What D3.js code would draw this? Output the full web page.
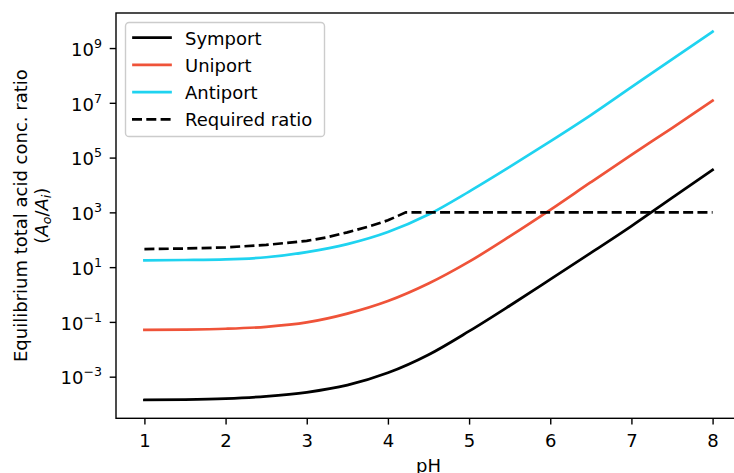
<!DOCTYPE html>
<html>
<head>
<meta charset="utf-8">
<script src="https://cdn.jsdelivr.net/npm/d3@7"></script>
<style>
  body { margin: 0; background: #fff; }
  svg { font-family: "DejaVu Sans", sans-serif; }
</style>
</head>
<body>
<svg width="734" height="473"></svg>
<script>
"use strict";

// values (ratio A_o / A_i)
const pH = [1, 1.5, 2, 2.5, 3, 3.5, 4, 4.5, 5, 5.5, 6, 6.5, 7, 7.5, 8];
const symport = [1.41e-4, 1.45e-4, 1.58e-4, 1.91e-4, 2.69e-4, 4.9e-4, 1.38e-3, 6.31e-3, 0.0457, 0.389, 3.55, 33.1, 316, 3390, 35500];
const uniport = [0.0513, 0.0525, 0.0562, 0.0661, 0.0955, 0.2, 0.575, 2.51, 15.8, 132, 1230, 12600, 126000, 1.2e6, 1.2e7];
const antiport = [17.8, 18.2, 19.1, 22.9, 35.5, 69.2, 191, 832, 5750, 45700, 389000, 3.55e6, 3.72e7, 3.89e8, 3.98e9];

const requiredPH = [1, 1.5, 2, 2.5, 3, 3.25, 3.5, 3.75, 4, 4.22, 5, 6, 7, 8];
const required = [45.7, 47.9, 52.5, 64.6, 91.2, 123, 186, 295, 513, 1000, 1000, 1000, 1000, 1000];

const xTicks = [1, 2, 3, 4, 5, 6, 7, 8];
const yTicks = [1e-3, 1e-1, 1e1, 1e3, 1e5, 1e7, 1e9];

const series = [
    {name: "Symport", x: pH, y: symport, color: "#000000", dash: null},
    {name: "Uniport", x: pH, y: uniport, color: "#ef5339", dash: null},
    {name: "Antiport", x: pH, y: antiport, color: "#1fd3f0", dash: null},
    {name: "Required ratio", x: requiredPH, y: required, color: "#000000", dash: "10,4.3"}
];

window.addEventListener("load", draw);

function draw() {
    const svg = d3.select("svg");
    const Box = {LEFT: 116, RIGHT: 741, TOP: 13, BOTTOM: 418.3};
    const FONT = 18;

    const x = d3.scaleLinear()
        .domain([0.65, 8.35])
        .range([Box.LEFT, Box.RIGHT]);
    const y = d3.scaleLog()
        .domain([Math.pow(10, -4.52), Math.pow(10, 10.28)])
        .range([Box.BOTTOM, Box.TOP]);

    svg.append("rect")
        .attr("width", 734).attr("height", 473)
        .attr("fill", "#fff");

    // lines
    series.forEach(s => {
        const line = d3.line()
            .x(d => x(d[0]))
            .y(d => y(d[1]))
            .curve(s.dash ? d3.curveLinear : d3.curveMonotoneX);
        svg.append("path")
            .datum(d3.zip(s.x, s.y))
            .attr("fill", "none")
            .attr("stroke", s.color)
            .attr("stroke-width", 2.7)
            .attr("stroke-linecap", s.dash ? "butt" : "square")
            .attr("stroke-dasharray", s.dash)
            .attr("d", line);
    });

    // x axis
    const xAxis = svg.append("g")
        .attr("transform", `translate(0, ${Box.BOTTOM})`)
        .call(d3.axisBottom(x).tickValues(xTicks).tickSize(6.3).tickSizeOuter(0).tickPadding(9.5).tickFormat(d3.format("d")));
    xAxis.select(".domain").remove();
    xAxis.selectAll("line").attr("stroke", "#000").attr("stroke-width", 1.4);
    xAxis.selectAll("text").attr("font-size", FONT).attr("font-family", "DejaVu Sans").attr("fill", "#000");

    // y axis with 10^n labels
    const yAxis = svg.append("g")
        .attr("transform", `translate(${Box.LEFT}, 0)`)
        .call(d3.axisLeft(y).tickValues(yTicks).tickSize(6.3).tickSizeOuter(0).tickFormat(""));
    yAxis.select(".domain").remove();
    yAxis.selectAll("line").attr("stroke", "#000").attr("stroke-width", 1.4);
    yAxis.selectAll(".tick text").remove();

    yTicks.forEach(v => {
        const e = Math.round(Math.log10(v));
        const t = svg.append("text")
            .attr("x", 102)
            .attr("y", y(v) + 7.7)
            .attr("text-anchor", "end")
            .attr("font-size", FONT)
            .attr("fill", "#000");
        t.append("tspan").text("10");
        t.append("tspan")
            .attr("dy", -8)
            .attr("font-size", 12.6)
            .text(e < 0 ? "\u2212" + Math.abs(e) : String(e));
    });

    // spines
    svg.append("rect")
        .attr("x", Box.LEFT).attr("y", Box.TOP)
        .attr("width", Box.RIGHT - Box.LEFT).attr("height", Box.BOTTOM - Box.TOP)
        .attr("fill", "none")
        .attr("stroke", "#000")
        .attr("stroke-width", 1.4);

    // axis labels
    svg.append("text")
        .attr("x", (Box.LEFT + Box.RIGHT) / 2)
        .attr("y", 472)
        .attr("text-anchor", "middle")
        .attr("font-size", FONT)
        .text("pH");

    const cy = (Box.TOP + Box.BOTTOM) / 2;
    svg.append("text")
        .attr("transform", `translate(26.5, ${cy}) rotate(-90)`)
        .attr("text-anchor", "middle")
        .attr("font-size", FONT)
        .text("Equilibrium total acid conc. ratio");
    const lab2 = svg.append("text")
        .attr("transform", `translate(47.5, ${cy}) rotate(-90)`)
        .attr("text-anchor", "middle")
        .attr("font-size", FONT);
    lab2.append("tspan").text("(");
    lab2.append("tspan").attr("font-style", "italic").text("A");
    lab2.append("tspan").attr("font-style", "italic").attr("font-size", 12.6).attr("dy", 3.5).text("o");
    lab2.append("tspan").attr("dy", -3.5).text("/");
    lab2.append("tspan").attr("font-style", "italic").text("A");
    lab2.append("tspan").attr("font-style", "italic").attr("font-size", 12.6).attr("dy", 3.5).text("i");
    lab2.append("tspan").attr("dy", -3.5).text(")");

    // legend
    const legend = svg.append("g");
    legend.append("rect")
        .attr("x", 125.5).attr("y", 22.5)
        .attr("width", 199).attr("height", 114)
        .attr("rx", 3.6)
        .attr("fill", "#fff").attr("fill-opacity", 0.8)
        .attr("stroke", "#cccccc").attr("stroke-width", 1.4);
    series.forEach((s, i) => {
        const ry = 37.7 + i * 27.2;
        legend.append("line")
            .attr("x1", s.dash ? 132 : 133.5).attr("x2", s.dash ? 172 : 170.5)
            .attr("y1", ry).attr("y2", ry)
            .attr("stroke", s.color)
            .attr("stroke-width", 2.7)
            .attr("stroke-linecap", s.dash ? "butt" : "square")
            .attr("stroke-dasharray", s.dash);
        legend.append("text")
            .attr("x", 185)
            .attr("y", ry + 7)
            .attr("font-size", FONT)
            .text(s.name);
    });
}
</script>
</body>
</html>
